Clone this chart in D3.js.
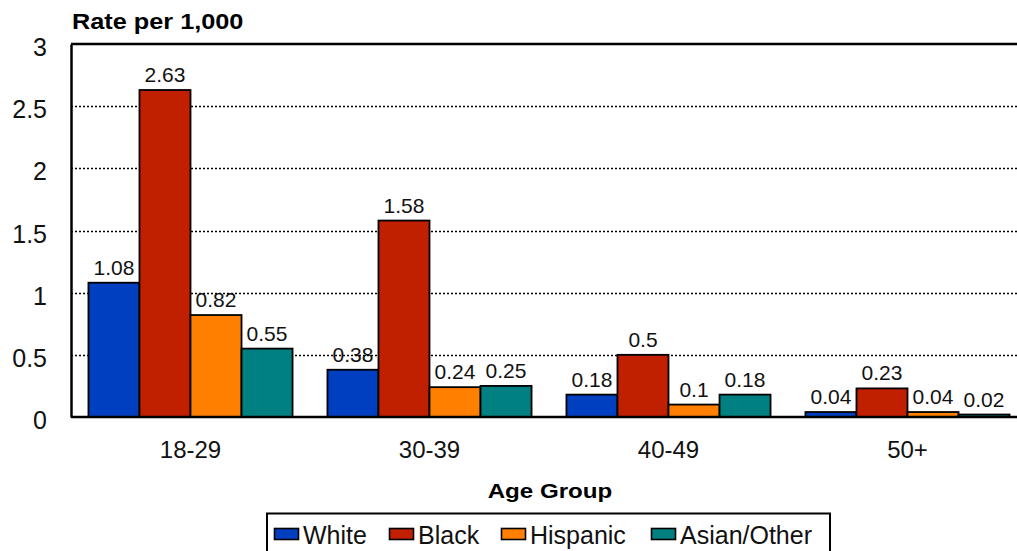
<!DOCTYPE html>
<html>
<head>
<meta charset="utf-8">
<script src="https://cdn.jsdelivr.net/npm/d3@7"></script>
<style>
  html, body { margin: 0; padding: 0; background: #fff; overflow: hidden; }
  svg { display: block; font-family: "Liberation Sans", Arial, sans-serif; }
</style>
</head>
<body>
<svg id="chart" width="1017" height="551"></svg>
<script>
// Age groups along the x axis
const ageGroups = ["18-29", "30-39", "40-49", "50+"];
// Race / ethnicity series
const seriesNames = ["White", "Black", "Hispanic", "Asian/Other"];
// Rate per 1,000 for each series, in age-group order
const whiteRates    = [1.08, 0.38, 0.18, 0.04];
const blackRates    = [2.63, 1.58, 0.5, 0.23];
const hispanicRates = [0.82, 0.24, 0.1, 0.04];
const asianRates    = [0.55, 0.25, 0.18, 0.02];
const yTicks = [0, 0.5, 1, 1.5, 2, 2.5, 3];
const seriesColors = ["#0040c0", "#c02000", "#ff8000", "#008080"];

const seriesValues = [whiteRates, blackRates, hispanicRates, asianRates];
const rows = ageGroups.map((g, i) => ({
  group: g,
  values: seriesNames.map((s, j) => ({ series: s, value: seriesValues[j][i] }))
}));

const svg = d3.select("#chart");
const plotLeft = 71, plotTop = 44, plotBottom = 417, plotRight = 1027;

const y = d3.scaleLinear().domain([0, 3]).range([plotBottom, plotTop]);
const x0 = d3.scaleBand().domain(ageGroups).range([plotLeft, plotRight])
  .paddingInner(0.146).paddingOuter(0.073);
const x1 = d3.scaleBand().domain(seriesNames).range([0, x0.bandwidth()]);
const color = d3.scaleOrdinal().domain(seriesNames).range(seriesColors);

// widen a text element horizontally around its anchor point
function widen(sel, k) {
  sel.each(function () {
    const ax = +(this.getAttribute("x") || 0);
    d3.select(this).attr("transform", `translate(${ax},0) scale(${k},1) translate(${-ax},0)`);
  });
}

// dotted gridlines
svg.append("g")
  .selectAll("line")
  .data(yTicks.filter(t => t > 0 && t < 3))
  .join("line")
  .attr("x1", plotLeft).attr("x2", 1017)
  .attr("y1", d => Math.round(y(d)) + 0.5).attr("y2", d => Math.round(y(d)) + 0.5)
  .attr("stroke", "#000").attr("stroke-width", 1.3)
  .attr("stroke-dasharray", "2,2");

// top frame line
svg.append("line")
  .attr("x1", plotLeft).attr("x2", 1017)
  .attr("y1", y(3)).attr("y2", y(3))
  .attr("stroke", "#000").attr("stroke-width", 2.5);

// bars
const groups = svg.append("g").selectAll("g")
  .data(rows).join("g")
  .attr("transform", d => `translate(${x0(d.group)},0)`);

groups.selectAll("rect")
  .data(d => d.values).join("rect")
  .attr("x", d => x1(d.series))
  .attr("y", d => y(d.value))
  .attr("width", x1.bandwidth())
  .attr("height", d => y(0) - y(d.value))
  .attr("fill", d => color(d.series))
  .attr("stroke", "#000").attr("stroke-width", 1.8);

// value labels
groups.selectAll("text")
  .data(d => d.values).join("text")
  .attr("x", d => x1(d.series) + x1.bandwidth() / 2)
  .attr("y", d => y(d.value) - 8)
  .attr("text-anchor", "middle")
  .attr("font-size", 21)
  .attr("fill", "#111")
  .text(d => d.value);

// y axis
const yAxis = svg.append("g")
  .attr("transform", `translate(${plotLeft},0)`)
  .call(d3.axisLeft(y).tickValues(yTicks).tickFormat(d3.format("")).tickSize(0).tickPadding(24));
yAxis.select(".domain").attr("stroke", "#000").attr("stroke-width", 2.5);
yAxis.selectAll("text").attr("font-size", 25).attr("fill", "#111")
  .attr("font-family", "'Liberation Sans', Arial, sans-serif").attr("dy", "0.46em");

// x axis
const xAxis = svg.append("g")
  .attr("transform", `translate(0,${plotBottom})`)
  .call(d3.axisBottom(x0).tickSize(0).tickPadding(24));
xAxis.select(".domain").attr("d", `M${plotLeft},0H1017`).attr("stroke", "#000").attr("stroke-width", 2.5);
xAxis.selectAll("text").attr("font-size", 24).attr("fill", "#111")
  .attr("font-family", "'Liberation Sans', Arial, sans-serif");

// axis titles
svg.append("text")
  .attr("x", 72).attr("y", 29)
  .attr("font-size", 22).attr("font-weight", "bold")
  .text("Rate per 1,000")
  .call(widen, 1.15);

svg.append("text")
  .attr("x", 550).attr("y", 498)
  .attr("text-anchor", "middle")
  .attr("font-size", 21).attr("font-weight", "bold")
  .text("Age Group")
  .call(widen, 1.15);

// legend
const legend = svg.append("g");
legend.append("rect")
  .attr("x", 267).attr("y", 513.5).attr("width", 563).attr("height", 50)
  .attr("fill", "#fff").attr("stroke", "#000").attr("stroke-width", 2);

const legendX = [274, 389, 501, 651];
const items = legend.selectAll("g.item")
  .data(seriesNames).join("g")
  .attr("class", "item")
  .attr("transform", (d, i) => `translate(${legendX[i]},0)`);
items.append("rect")
  .attr("x", 0.5).attr("y", 528.5).attr("width", 24).attr("height", 11)
  .attr("fill", d => color(d)).attr("stroke", "#000").attr("stroke-width", 1.6);
items.append("text")
  .attr("x", 29).attr("y", 544)
  .attr("font-size", 25).attr("fill", "#111")
  .text(d => d);
</script>
</body>
</html>
